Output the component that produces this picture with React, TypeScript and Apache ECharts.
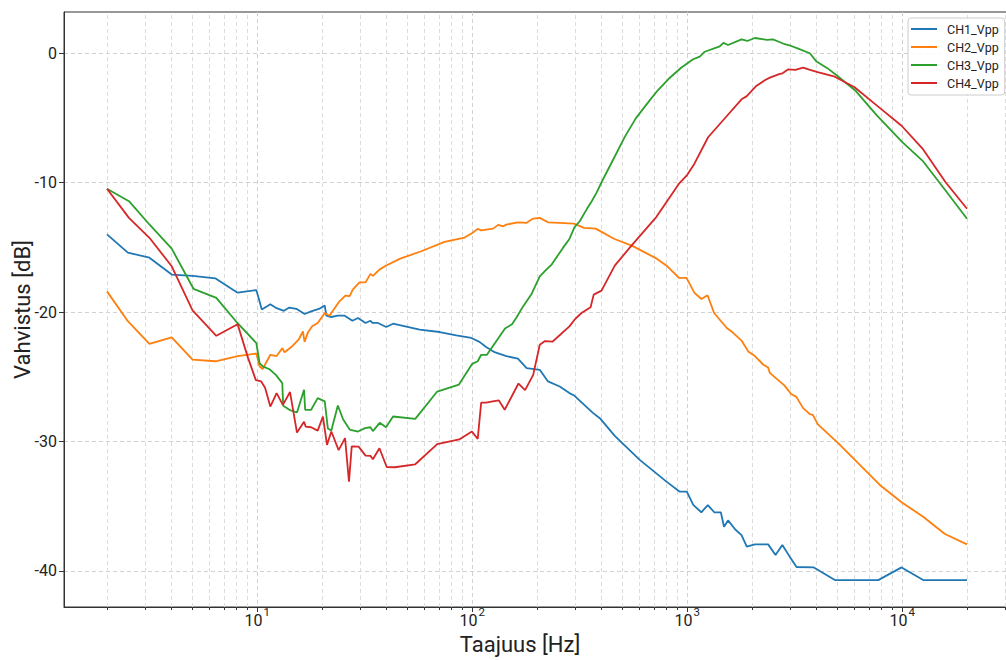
import React, { useEffect, useRef } from "react";
import * as echarts from "echarts";

// [frequency Hz, gain dB]
const ch1: [number, number][] = [
  [2, -14.0], [2.5, -15.4], [3.15, -15.8], [4, -17.1], [5, -17.2], [6.4, -17.4], [8.1, -18.5], [9.9, -18.3],
  [10.5, -19.8], [11.5, -19.4], [12.3, -19.7], [13.3, -19.9], [14.1, -19.65], [15.2, -19.75], [16.6, -20.15],
  [17.8, -19.95], [19.35, -19.76], [20.6, -19.5], [20.95, -20.28], [22.1, -20.38], [23.7, -20.28], [25.5, -20.28],
  [27.7, -20.67], [29.4, -20.46], [31.9, -20.84], [33.6, -20.67], [34.3, -20.84], [36.4, -20.84], [39.8, -21.15],
  [42.8, -20.9], [56.9, -21.36], [70.5, -21.54], [84.3, -21.8], [99, -22.0], [108, -22.3], [116, -22.7],
  [127, -23.1], [144, -23.4], [163, -23.6], [179, -24.33], [206, -24.46], [225, -25.36], [255, -25.75],
  [283, -26.26], [299, -26.47], [365, -27.81], [392, -28.2], [460, -29.57], [601, -31.42], [800, -33.1],
  [923, -33.88], [995, -33.88], [1066, -34.9], [1162, -35.47], [1246, -34.91], [1335, -35.47], [1432, -35.47],
  [1482, -36.59], [1548, -36.1], [1672, -36.8], [1788, -37.23], [1892, -38.12], [2062, -37.95], [2377, -37.95],
  [2573, -38.78], [2768, -38.0], [2984, -38.86], [3223, -39.7], [3879, -39.73], [4858, -40.71], [7727, -40.71],
  [9925, -39.73], [12510, -40.71], [20000, -40.71],
];

const ch2: [number, number][] = [
  [2, -18.4], [2.5, -20.7], [3.15, -22.45], [4, -21.96], [5, -23.68], [6.4, -23.8], [8.1, -23.4], [9.9, -23.2],
  [10.25, -24.2], [10.6, -24.4], [11.5, -23.3], [12.3, -23.4], [13.07, -22.8], [13.4, -23.1], [14.4, -22.7],
  [15.6, -22.1], [16.3, -21.5], [16.6, -22.3], [17.2, -21.57], [18.0, -21.1], [19.1, -20.84], [20.6, -20.07],
  [21.7, -20.28], [22.1, -20.07], [24.1, -19.17], [25.7, -18.73], [26.9, -18.77], [27.8, -18.27], [29.9, -17.7],
  [31.9, -17.7], [33.6, -17.05], [34.5, -17.2], [37.1, -16.7], [39.8, -16.4], [46.2, -15.87], [57.9, -15.3],
  [74.3, -14.57], [92.1, -14.24], [99.6, -13.9], [106, -13.57], [110, -13.68], [125, -13.55], [132, -13.26],
  [139, -13.37], [144, -13.24], [163, -13.06], [179, -13.1], [192, -12.77], [206, -12.72], [225, -13.06],
  [255, -13.1], [297, -13.16], [331, -13.49], [375, -13.55], [456, -14.33], [555, -14.88], [721, -15.87],
  [808, -16.46], [915, -17.36], [992, -17.36], [1080, -18.52], [1164, -18.99], [1242, -18.7], [1333, -20.07],
  [1527, -21.23], [1634, -21.6], [1788, -22.2], [1922, -23.04], [2062, -23.4], [2253, -24.05], [2377, -24.29],
  [2421, -24.7], [2623, -25.2], [2828, -25.66], [3041, -26.33], [3216, -26.55], [3458, -27.42], [3715, -27.88],
  [3837, -27.94], [4050, -28.68], [5032, -30.13], [6349, -31.81], [7865, -33.36], [9925, -34.7], [12510, -35.81],
  [15785, -37.15], [20000, -37.95],
];

const ch3: [number, number][] = [
  [2, -10.47], [2.53, -11.43], [3.15, -13.23], [4, -15.1], [5.05, -18.2], [6.45, -18.9], [8.1, -20.86],
  [9.9, -22.39], [10.25, -23.94], [10.6, -24.2], [11.4, -24.42], [12.2, -24.85], [13.07, -25.49], [13.2, -27.24],
  [14.1, -27.55], [15.3, -27.76], [16.5, -26.0], [16.7, -27.55], [17.8, -27.55], [19.1, -26.65], [20.6, -26.9],
  [21.3, -29.0], [22.1, -29.15], [23.7, -27.22], [25.1, -28.3], [26.9, -29.08], [29.4, -29.23], [31.7, -28.97],
  [33.6, -28.9], [34.5, -29.2], [37.1, -28.56], [39.7, -28.9], [42.8, -28.07], [54.3, -28.25], [68.7, -26.14],
  [86.7, -25.6], [100, -24.0], [106, -23.8], [110, -23.3], [117, -23.3], [142, -21.27], [153, -20.94],
  [160, -20.46], [172, -19.58], [189, -18.58], [206, -17.24], [221, -16.72], [234, -16.33], [264, -15.04],
  [283, -14.35], [299, -13.44], [316, -12.98], [341, -12.04], [360, -11.42], [378, -10.79], [402, -9.87],
  [455, -8.13], [512, -6.46], [576, -5.03], [652, -3.87], [729, -2.86], [820, -1.97], [936, -1.12],
  [1064, -0.46], [1143, -0.26], [1206, 0.12], [1416, 0.54], [1474, 0.8], [1548, 0.64], [1788, 1.08],
  [1902, 0.95], [2062, 1.18], [2356, 1.03], [2500, 1.08], [2666, 0.89], [2843, 0.7], [2984, 0.62],
  [3278, 0.36], [3715, 0], [3993, -0.64], [4482, -1.15], [4947, -1.7], [6083, -2.92], [7578, -4.76],
  [10000, -6.87], [12510, -8.36], [15700, -10.49], [20000, -12.79],
];

const ch4: [number, number][] = [
  [2, -10.47], [2.53, -12.72], [3.15, -14.26], [4, -16.46], [5, -19.87], [6.45, -21.83], [8.1, -20.94],
  [9.04, -23.5], [9.85, -25.26], [10.43, -25.36], [10.87, -25.85], [11.5, -27.3], [12.3, -26.26], [13.15, -27.17],
  [14.2, -26.18], [15.3, -29.31], [16.5, -28.48], [16.8, -28.85], [17.8, -28.9], [19.1, -29.16], [20.2, -28.07],
  [21.1, -30.26], [22.1, -29.23], [23.9, -30.67], [25.6, -29.74], [26.7, -33.1], [27.5, -30.38], [29.6, -30.4],
  [31.9, -31.09], [33.6, -31.11], [34.5, -31.37], [37.0, -30.52], [40.0, -31.97], [43.6, -31.99], [54.3, -31.76],
  [68.7, -30.2], [87.0, -29.84], [99.6, -29.23], [106, -29.8], [110, -27.0], [116, -27.0], [124.5, -26.9],
  [133, -26.83], [141.5, -27.55], [164, -25.52], [176, -26.03], [192, -24.85], [206, -22.52], [218, -22.24],
  [236, -22.29], [283, -21.1], [299, -20.59], [322, -20.07], [355, -19.62], [367, -18.65], [399, -18.34],
  [460, -16.41], [550, -14.86], [719, -12.64], [913, -10.1], [1000, -9.39], [1078, -8.55], [1250, -6.49],
  [1535, -4.81], [1788, -3.56], [1886, -3.33], [2084, -2.55], [2294, -2.09], [2421, -1.88], [2694, -1.59],
  [2773, -1.55], [2951, -1.24], [3181, -1.29], [3458, -1.11], [3724, -1.29], [4040, -1.45], [4807, -1.78],
  [6000, -2.62], [7700, -4.1], [9925, -5.6], [12510, -7.43], [15870, -9.95], [20000, -12.01],
];

const seriesNames = ["CH1_Vpp", "CH2_Vpp", "CH3_Vpp", "CH4_Vpp"];
const seriesData = [ch1, ch2, ch3, ch4];
const colors = ["#1f77b4", "#ff7f0e", "#2ca02c", "#d62728"];

const xMin = 1.2619;
const xMax = 31698;
const yMin = -42.79;
const yMax = 3.19;

const minorFreqs = [
  2, 3, 4, 5, 6, 7, 8, 9,
  20, 30, 40, 50, 60, 70, 80, 90,
  200, 300, 400, 500, 600, 700, 800, 900,
  2000, 3000, 4000, 5000, 6000, 7000, 8000, 9000,
  20000, 30000,
];

const xTitle = "Taajuus [Hz]";
const yTitle = "Vahvistus [dB]";

const FONT = "Roboto, 'Open Sans', sans-serif";
const TEXT = "#222222";
const AXIS = "#333333";
const GRID_MAJOR = "#d2d2d2";
const GRID_MINOR = "#dcdcdc";

export default function App() {
  const ref = useRef<HTMLDivElement>(null);

  useEffect(() => {
    if (!ref.current) return;
    const chart = echarts.init(ref.current, undefined, { renderer: "svg" });

    const option: any = {
      animation: false,
      grid: {
        left: 64,
        top: 12,
        right: -4,
        bottom: 53,
        outerBoundsMode: "none",
        containLabel: false,
        show: true,
        borderColor: AXIS,
        borderWidth: 1,
        backgroundColor: "transparent",
      },
      legend: {
        show: true,
        orient: "vertical",
        left: 908,
        top: 18,
        data: seriesNames,
        icon: "rect",
        itemWidth: 26,
        itemHeight: 2,
        itemGap: 4,
        padding: [4, 6, 5, 3],
        backgroundColor: "rgba(255,255,255,0.85)",
        borderColor: "#cccccc",
        borderWidth: 1,
        borderRadius: 3,
        selectedMode: false,
        textStyle: { fontSize: 12.5, fontFamily: FONT, color: TEXT, lineHeight: 14, padding: [0, 0, 0, 5] },
      },
      xAxis: [
        {
          type: "log",
          logBase: 10,
          min: xMin,
          max: xMax,
          position: "bottom",
          name: xTitle,
          nameLocation: "middle",
          nameGap: 26,
          nameMoveOverlap: false,
          nameTextStyle: { fontSize: 22, color: TEXT, fontFamily: FONT, padding: [0, 34, 0, 0] },
          axisLine: { show: true, onZero: false, lineStyle: { color: AXIS, width: 1 } },
          axisTick: { show: true, length: 5, lineStyle: { color: AXIS, width: 1 } },
          axisLabel: {
            margin: 5,
            showMinLabel: false,
            showMaxLabel: false,
            formatter: (v: number) => {
              const e = Math.round(Math.log10(v));
              return `{a|10}{b|${e}}`;
            },
            rich: {
              a: { fontSize: 16, fontFamily: FONT, color: TEXT, lineHeight: 16, verticalAlign: "bottom" },
              b: {
                fontSize: 11.5,
                fontFamily: FONT,
                color: TEXT,
                lineHeight: 11.5,
                verticalAlign: "bottom",
                padding: [0, 0, 10, 1],
              },
            },
          },
          splitLine: {
            show: true,
            showMinLine: false,
            showMaxLine: false,
            lineStyle: { color: GRID_MAJOR, type: [4, 3], width: 1 },
          },
        },
        {
          type: "value",
          min: Math.log10(xMin),
          max: Math.log10(xMax),
          position: "bottom",
          axisLine: { show: false, onZero: false },
          axisLabel: { show: false },
          splitLine: { show: false },
          axisTick: {
            show: true,
            length: 3,
            customValues: minorFreqs.map((v) => Math.log10(v)),
            lineStyle: { color: AXIS, width: 1 },
          },
        },
      ],
      yAxis: {
        type: "value",
        min: yMin,
        max: yMax,
        name: yTitle,
        nameLocation: "middle",
        nameGap: 31,
        nameMoveOverlap: false,
        nameTextStyle: { fontSize: 22, color: TEXT, fontFamily: FONT },
        axisLine: { show: true, onZero: false, lineStyle: { color: AXIS, width: 1 } },
        axisTick: { show: true, length: 5, lineStyle: { color: AXIS, width: 1 } },
        axisLabel: {
          margin: 7,
          fontSize: 16,
          fontFamily: FONT,
          color: TEXT,
          showMinLabel: false,
          showMaxLabel: false,
          formatter: (v: number) => String(Math.round(v)),
        },
        splitLine: {
          show: true,
          showMinLine: false,
          showMaxLine: false,
          lineStyle: { color: GRID_MAJOR, type: [4, 3], width: 1 },
        },
      },
      series: [
        {
          type: "line",
          name: "__minorgrid",
          xAxisIndex: 0,
          yAxisIndex: 0,
          data: [],
          silent: true,
          z: 1,
          markLine: {
            silent: true,
            z: 1,
            symbol: ["none", "none"],
            label: { show: false },
            emphasis: { disabled: true },
            lineStyle: { color: GRID_MINOR, type: [4, 3], width: 1 },
            data: minorFreqs.map((v) => ({ xAxis: v })),
          },
        },
        ...seriesData.map((d, i) => ({
          type: "line",
          name: seriesNames[i],
          xAxisIndex: 0,
          yAxisIndex: 0,
          data: d,
          color: colors[i],
          showSymbol: false,
          symbol: "none",
          silent: true,
          z: 3,
          lineStyle: { color: colors[i], width: 1.8 },
          emphasis: { disabled: true },
        })),
      ],
    };

    chart.setOption(option);
    return () => chart.dispose();
  }, []);

  return (
    <div
      ref={ref}
      style={{ position: "absolute", left: 0, top: 0, width: 1006, height: 660, background: "#ffffff" }}
    />
  );
}
